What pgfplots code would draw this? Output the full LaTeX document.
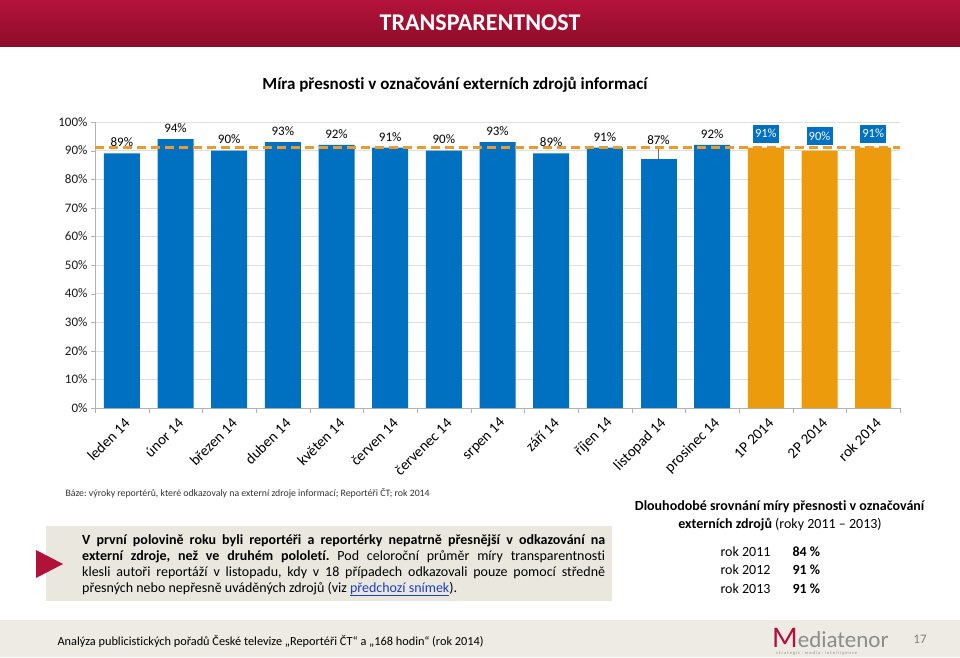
\documentclass[border=0pt]{standalone}
\usepackage{fontspec}
\setmainfont{Carlito}[Ligatures=NoCommon]
\usepackage{pgfplots}
\usepackage{pgfplotstable}
\pgfplotsset{compat=1.18}

\definecolor{barblue}{HTML}{0070C0}
\definecolor{barorange}{HTML}{EB9B0C}
\definecolor{dashorange}{HTML}{E99A30}
\definecolor{hdrtop}{HTML}{B4133A}
\definecolor{hdrbot}{HTML}{8C0C28}
\definecolor{boxgrey}{HTML}{EAE7DF}
\definecolor{footgrey}{HTML}{EDEBE4}
\definecolor{crimson}{HTML}{B0123A}
\definecolor{linkblue}{HTML}{1F3FBF}

% monthly share (%), listopad kept apart for its leader line
\pgfplotstableread{
x y
0 89
1 94
2 90
3 93
4 92
5 91
6 90
7 93
8 89
9 91
11 92
}\monthly
\pgfplotstableread{
x y
10 87
}\november
\pgfplotstableread{
x y
12 91
13 90
14 91
}\halves

\begin{document}
\frenchspacing
\begin{tikzpicture}[x=1pt,y=1pt]
\fill[white] (0,0) rectangle (960,657);
% header bar
\shade[top color=hdrtop, bottom color=hdrbot] (0,610) rectangle (960,657);
\node[white, font=\fontsize{24}{28}\selectfont\bfseries] at (480,634) {TRANSPARENTNOST};
\node[font=\fontsize{17}{20}\selectfont\bfseries] at (455,572) {Míra přesnosti v označování externích zdrojů informací};

\begin{axis}[
  at={(95pt,249pt)}, anchor=south west,
  scale only axis, width=805pt, height=286pt,
  xmin=-0.5, xmax=14.5, ymin=0, ymax=100,
  axis x line*=bottom, axis y line*=left,
  axis line style={draw=black!30},
  ytick={0,10,...,100},
  yticklabels={0\%,10\%,20\%,30\%,40\%,50\%,60\%,70\%,80\%,90\%,100\%},
  ymajorgrids, grid style={black!12},
  xtick={0,...,14},
  xticklabels={leden 14,únor 14,březen 14,duben 14,květen 14,červen 14,červenec 14,srpen 14,září 14,říjen 14,listopad 14,prosinec 14,1P 2014,2P 2014,rok 2014},
  minor xtick={-0.5,0.5,...,14.5},
  tick align=outside,
  major x tick style={draw=none},
  minor x tick style={black!30},
  y tick style={black!30},
  major tick length=4pt, minor tick length=5pt,
  xticklabel style={rotate=45, anchor=east, xshift=1pt, yshift=-10pt,
    font=\fontsize{15}{17}\selectfont, text=black},
  yticklabel style={font=\fontsize{13}{15}\selectfont, text=black!90},
  /pgf/number format/assume math mode=true,
  clip=false,
]
\addplot[ybar, bar width=36pt, bar shift=0pt, fill=barblue, draw=none,
  nodes near coords={\pgfmathprintnumber{\pgfplotspointmeta}\%},
  every node near coord/.append style={font=\fontsize{13}{15}\selectfont, black, yshift=3pt}]
  table[x=x, y=y] {\monthly};
\addplot[ybar, bar width=36pt, bar shift=0pt, fill=barblue, draw=none,
  nodes near coords={\pgfmathprintnumber{\pgfplotspointmeta}\%},
  every node near coord/.append style={font=\fontsize{13}{15}\selectfont, black, yshift=11pt}]
  table[x=x, y=y] {\november};
\addplot[ybar, bar width=36pt, bar shift=0pt, fill=barorange, draw=none,
  nodes near coords={\pgfmathprintnumber{\pgfplotspointmeta}\%},
  every node near coord/.append style={font=\fontsize{12.5}{14}\selectfont, text=white, fill=barblue,
    minimum width=26pt, minimum height=18pt, inner sep=1pt, yshift=5pt}]
  table[x=x, y=y] {\halves};
% leader line for listopad label
\addplot[black!55, thin] coordinates {(10,87) (10,91)};
% average line
\addplot[dashorange, line width=2.6pt, dash pattern=on 9pt off 5pt] coordinates {(-0.5,91) (14.5,91)};
\end{axis}

\node[anchor=west, font=\fontsize{9.8}{12}\selectfont, text=black!80] at (62,164)
  {Báze: výroky reportérů, které odkazovaly na externí zdroje informací; Reportéři ČT; rok 2014};

% note box
\fill[boxgrey] (46,56) rectangle (612,131);
\fill[crimson] (36,107) -- (63,93) -- (36,79) -- cycle;
\node[anchor=north west, text width=523pt, align=justify, inner sep=0pt,
  font=\fontsize{14}{16}\selectfont] at (82,123)
  {\textbf{V první polovině roku byli reportéři a reportérky nepatrně přesnější v odkazování na\linebreak
   externí zdroje, než ve druhém pololetí.} Pod celoroční průměr míry transparentnosti\linebreak
   klesli autoři reportáží v listopadu, kdy v 18 případech odkazovali pouze pomocí středně\linebreak
   přesných nebo nepřesně uváděných zdrojů (viz \textcolor{linkblue}{\underline{předchozí snímek}}).};

% right-hand comparison
\node[align=center, font=\fontsize{14}{18}\selectfont] at (780,141)
  {\textbf{Dlouhodobé srovnání míry přesnosti v označování}\\\textbf{externích zdrojů} (roky 2011 – 2013)};
\begin{scope}[font=\fontsize{14}{16}\selectfont]
\node[anchor=west] at (717,105) {rok 2011};
\node[anchor=west] at (789,105) {\textbf{84 \%}};
\node[anchor=west] at (717,87) {rok 2012};
\node[anchor=west] at (789,87) {\textbf{91 \%}};
\node[anchor=west] at (717,68) {rok 2013};
\node[anchor=west] at (789,68) {\textbf{91 \%}};
\end{scope}

% footer
\fill[footgrey] (0,0) rectangle (960,37);
\node[anchor=west, font=\fontsize{12.3}{14}\selectfont] at (54,16)
  {Analýza publicistických pořadů České televize „Reportéři ČT“ a „168 hodin“ (rok 2014)};
\node[anchor=west, inner sep=0pt] at (772,19)
  {{\color{crimson}\fontsize{30}{30}\selectfont M}{\color{black!45}\fontsize{23}{23}\selectfont ediatenor}};
\node[anchor=west, inner sep=0pt, text=black!45, font=\fontsize{4.5}{5}\selectfont] at (776,4)
  {s t r a t e g i c \,·\, m e d i a \,·\, i n t e l l i g e n c e};
\node[text=black!50, font=\fontsize{13}{15}\selectfont] at (920,18) {17};
\end{tikzpicture}
\end{document}
